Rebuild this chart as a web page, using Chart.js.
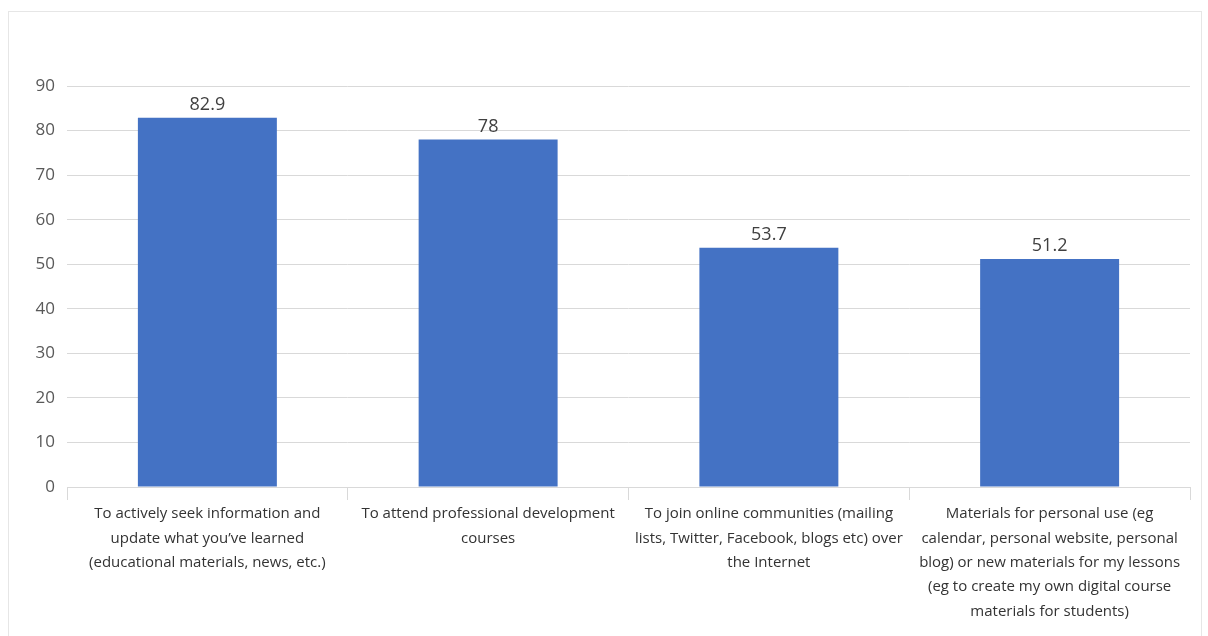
<!DOCTYPE html>
<html>
<head>
<meta charset="utf-8">
<script src="https://cdn.jsdelivr.net/npm/chart.js@4"></script>
<style>
  html, body { margin: 0; padding: 0; background: #fff; overflow: hidden; }
  #frame { position: absolute; left: 8px; top: 11px; width: 1194px; height: 640px; border: 1px solid #e6e6e6; box-sizing: border-box; }
  #reasonsChart { position: absolute; left: 0; top: 0; }
</style>
</head>
<body>
<div id="frame"></div>
<canvas id="reasonsChart" width="1208" height="636"></canvas>
<script>
const reasons = [
    ['To actively seek information and', 'update what you\u2019ve learned', '(educational materials, news, etc.)'],
    ['To attend professional development', 'courses'],
    ['To join online communities (mailing', 'lists, Twitter, Facebook, blogs etc) over', 'the Internet'],
    ['Materials for personal use (eg', 'calendar, personal website, personal', 'blog) or new materials for my lessons', '(eg to create my own digital course', 'materials for students)']
];
const percents = [82.9, 78, 53.7, 51.2];
const yTicks = [0, 10, 20, 30, 40, 50, 60, 70, 80, 90];

const ctx = document.getElementById('reasonsChart');

// writes the value above each bar
const valueLabels = {
    id: 'value_labels',
    afterDatasetsDraw: (chart) => {
        const c = chart.ctx;
        const meta = chart.getDatasetMeta(0);
        c.save();
        c.font = '18px "Open Sans", sans-serif';
        c.fillStyle = '#404040';
        c.textAlign = 'center';
        c.textBaseline = 'bottom';
        meta.data.forEach((bar, i) => {
            c.fillText(String(percents[i]), bar.x, bar.y - 4);
        });
        c.restore();
    }
};

const data = {
    labels: reasons,
    datasets: [{
        data: percents,
        backgroundColor: '#4472C4',
        borderWidth: 0,
        categoryPercentage: 1,
        barPercentage: 0.495
    }]
};

const config = {
    type: 'bar',
    data: data,
    options: {
        responsive: false,
        animation: false,
        layout: {
            padding: { top: 86, right: 18, left: 0, bottom: 0 }
        },
        plugins: {
            legend: { display: false },
            tooltip: { enabled: false }
        },
        scales: {
            x: {
                offset: true,
                grid: {
                    offset: true,
                    drawOnChartArea: false,
                    tickLength: 13,
                    color: '#d9d9d9'
                },
                border: { color: '#d9d9d9' },
                ticks: {
                    maxRotation: 0,
                    autoSkip: false,
                    padding: 2,
                    color: '#333333',
                    font: { family: '"Open Sans", sans-serif', size: 15, lineHeight: '24.3px' }
                },
                afterFit: (scale) => { scale.height = 149; }
            },
            y: {
                min: 0,
                max: 90,
                afterBuildTicks: (scale) => { scale.ticks = yTicks.map(v => ({ value: v })); },
                grid: {
                    drawTicks: false,
                    color: '#d9d9d9'
                },
                border: { display: false },
                ticks: {
                    padding: 12,
                    color: '#595959',
                    font: { family: '"Open Sans", sans-serif', size: 17 }
                },
                afterFit: (scale) => { scale.width = 67; }
            }
        }
    },
    plugins: [valueLabels]
};

const reasonsChart = new Chart(ctx.getContext('2d'), config);
</script>
</body>
</html>
